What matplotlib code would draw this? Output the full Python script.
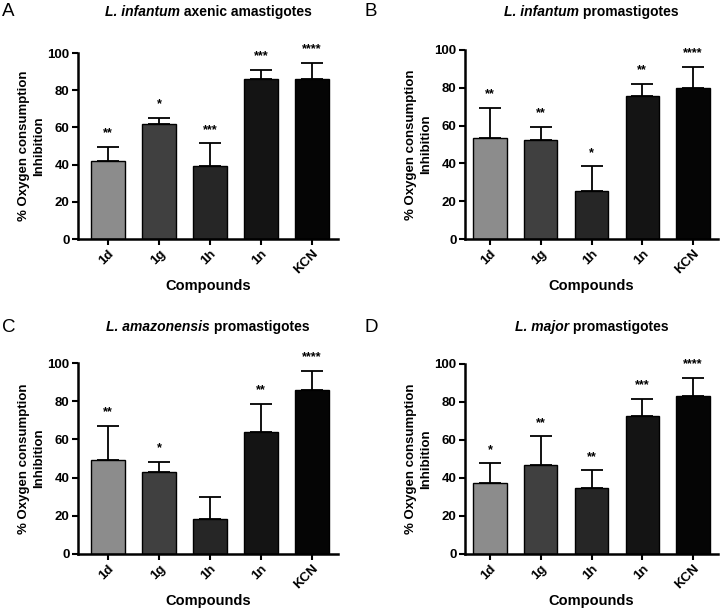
import matplotlib
matplotlib.use("Agg")
import matplotlib.pyplot as plt

plt.rcParams['font.family'] = ['Liberation Sans', 'DejaVu Sans']

compounds = ['1d', '1g', '1h', '1n', 'KCN']
bar_colors = ['#8c8c8c', '#404040', '#262626', '#141414', '#050505']

# means and upper error bars (SD) for each panel
vals_a = [42, 62, 39, 86, 86]
err_a = [7.5, 3, 12.5, 5, 8.8]
stars_a = ['**', '*', '***', '***', '****']

vals_b = [53.5, 52.3, 25.5, 75.4, 79.8]
err_b = [16, 7, 13, 6.6, 11.4]
stars_b = ['**', '**', '*', '**', '****']

vals_c = [49, 42.8, 18.3, 64, 85.7]
err_c = [18, 5.4, 11.7, 14.6, 10.3]
stars_c = ['**', '*', '', '**', '****']

vals_d = [37.5, 46.8, 34.6, 72.8, 83]
err_d = [10.2, 15.1, 9.4, 8.8, 9.5]
stars_d = ['*', '**', '**', '***', '****']

# letter, species, rest of title, data, axes box (px: left, top, right, bottom), xlim, letter pos, title y
panels = [
    ('A', 'L. infantum', ' axenic amastigotes', vals_a, err_a, stars_a,
     [78, 53, 338, 239], (-0.59, 4.51), 2, 12),
    ('B', 'L. infantum', ' promastigotes', vals_b, err_b, stars_b,
     [465, 50, 718, 239], (-0.49, 4.49), 364, 12),
    ('C', 'L. amazonensis', ' promastigotes', vals_c, err_c, stars_c,
     [78, 363, 338, 554], (-0.59, 4.51), 2, 327),
    ('D', 'L. major', ' promastigotes', vals_d, err_d, stars_d,
     [465, 364, 718, 554], (-0.49, 4.49), 364, 327),
]

W, H = 720, 610
fig = plt.figure(figsize=(7.2, 6.1), dpi=100)

titles = []
for letter, sp, rest, vals, errs, stars, box, xl, lx, ty_px in panels:
    x0, y0, x1, y1 = box
    ax = fig.add_axes([x0 / W, (H - y1) / H, (x1 - x0) / W, (y1 - y0) / H])
    x = range(len(compounds))
    ax.bar(x, vals, width=0.66, color=bar_colors, edgecolor='black', linewidth=1.0, zorder=2)
    ax.errorbar(x, vals, yerr=[[0] * len(errs), errs], fmt='none', ecolor='black',
                elinewidth=1.3, capsize=8, capthick=1.3, zorder=1)
    for i, s in enumerate(stars):
        if s:
            ax.text(i, vals[i] + errs[i] + 4, s, ha='center', va='bottom',
                    fontsize=9, fontweight='bold')
    ax.set_ylim(0, 100)
    ax.set_xlim(*xl)
    ax.set_yticks([0, 20, 40, 60, 80, 100])
    ax.set_xticks(list(x))
    ax.set_xticklabels(compounds, rotation=45, ha='right', rotation_mode='anchor')
    for lab in ax.get_xticklabels() + ax.get_yticklabels():
        lab.set_fontweight('bold')
        lab.set_fontsize(9.5)
    ax.tick_params(axis='both', width=1.5, length=4, direction='out', pad=2)
    ax.spines['top'].set_visible(False)
    ax.spines['right'].set_visible(False)
    ax.spines['left'].set_linewidth(1.8)
    ax.spines['bottom'].set_linewidth(1.8)
    ax.set_ylabel('% Oxygen consumption\nInhibition', fontsize=9.5, fontweight='bold',
                  linespacing=1.3, labelpad=2)
    ax.set_xlabel('Compounds', fontsize=10.5, fontweight='bold', labelpad=2)

    cx = (x0 + x1) / 2 / W
    ty = 1 - ty_px / H
    t1 = fig.text(cx, ty, sp, fontsize=10, fontweight='bold', fontstyle='italic',
                  ha='left', va='center')
    t2 = fig.text(cx, ty, rest, fontsize=10, fontweight='bold', ha='left', va='center')
    titles.append((cx, t1, t2))
    fig.text(lx / W, ty, letter, fontsize=13.5, ha='left', va='center')

fig.canvas.draw()
r = fig.canvas.get_renderer()
for cx, t1, t2 in titles:
    w1 = t1.get_window_extent(r).width / W
    w2 = t2.get_window_extent(r).width / W
    start = cx - (w1 + w2) / 2
    t1.set_x(start)
    t2.set_x(start + w1)

fig.savefig('out.png', dpi=100)
